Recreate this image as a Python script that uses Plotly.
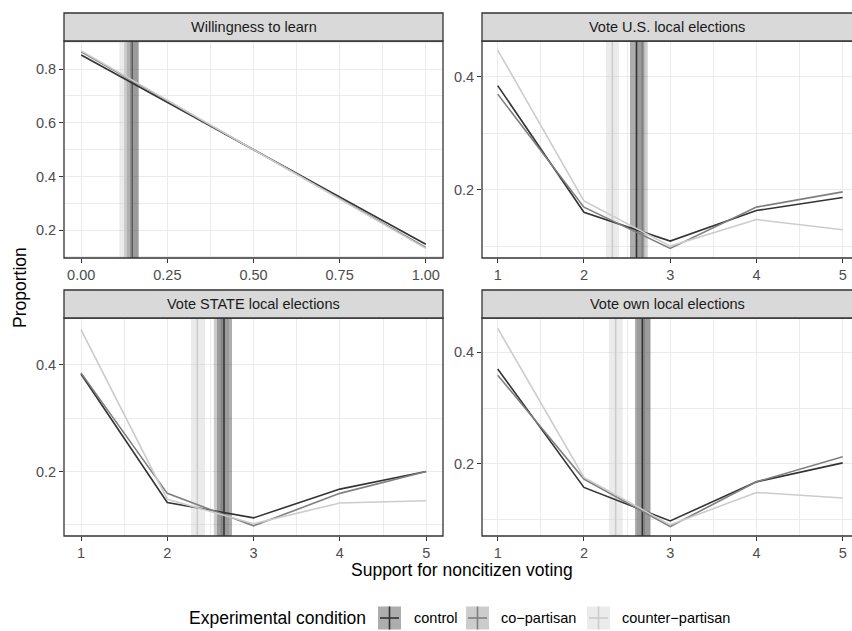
import plotly.graph_objects as go

# ---------------- data ----------------
conditions = ["control", "co\u2212partisan", "counter\u2212partisan"]
panel_titles = ["Willingness to learn", "Vote U.S. local elections",
                "Vote STATE local elections", "Vote own local elections"]

learn_x = [0, 1]
support_x = [1, 2, 3, 4, 5]

learn_control = [0.853, 0.147]
learn_co = [0.865, 0.135]
learn_counter = [0.868, 0.132]

us_control = [0.384, 0.160, 0.109, 0.163, 0.186]
us_co = [0.369, 0.169, 0.096, 0.169, 0.196]
us_counter = [0.447, 0.180, 0.100, 0.147, 0.129]

state_control = [0.383, 0.142, 0.113, 0.167, 0.200]
state_co = [0.385, 0.159, 0.098, 0.159, 0.200]
state_counter = [0.466, 0.148, 0.102, 0.141, 0.145]

own_control = [0.370, 0.158, 0.098, 0.168, 0.202]
own_co = [0.359, 0.173, 0.088, 0.168, 0.213]
own_counter = [0.443, 0.176, 0.091, 0.149, 0.139]

# means and 95% CI (mean, low, high) per condition
learn_mean = [(0.147, 0.131, 0.167), (0.145, 0.125, 0.165), (0.130, 0.111, 0.150)]
us_mean = [(2.609, 2.534, 2.700), (2.677, 2.615, 2.739), (2.329, 2.256, 2.406)]
state_mean = [(2.657, 2.576, 2.750), (2.630, 2.540, 2.715), (2.348, 2.275, 2.437)]
own_mean = [(2.677, 2.592, 2.766), (2.696, 2.615, 2.777), (2.368, 2.290, 2.449)]

# ---------------- styling ----------------
W, H = 852, 631
FONT = "Liberation Sans, Arial, Helvetica, sans-serif"
line_colors = ["#333333", "#7f7f7f", "#cccccc"]
fill_colors = ["rgba(51,51,51,0.4)", "rgba(127,127,127,0.4)", "rgba(204,204,204,0.4)"]
LW = 1.6


def fx(p):
    return p / W


def fy(p):
    return 1 - p / H


cols = [(64, 443), (482, 852)]
rows = [(41, 258), (318, 536)]
strip_rows = [(13, 41), (290, 318)]

panels = [
    dict(x=learn_x, ys=[learn_control, learn_co, learn_counter], means=learn_mean,
         col=0, row=0, xr=[-0.05, 1.05], yr=[0.096, 0.905],
         xt=[0, 0.25, 0.5, 0.75, 1.0], xtt=["0.00", "0.25", "0.50", "0.75", "1.00"],
         xm=[0.125, 0.375, 0.625, 0.875],
         yt=[0.2, 0.4, 0.6, 0.8], ym=[0.1, 0.3, 0.5, 0.7, 0.9]),
    dict(x=support_x, ys=[us_control, us_co, us_counter], means=us_mean,
         col=1, row=0, xr=[0.818, 5.108], yr=[0.079, 0.463],
         xt=[1, 2, 3, 4, 5], xtt=["1", "2", "3", "4", "5"], xm=[1.5, 2.5, 3.5, 4.5],
         yt=[0.2, 0.4], ym=[0.1, 0.3]),
    dict(x=support_x, ys=[state_control, state_co, state_counter], means=state_mean,
         col=0, row=1, xr=[0.803, 5.195], yr=[0.079, 0.488],
         xt=[1, 2, 3, 4, 5], xtt=["1", "2", "3", "4", "5"], xm=[1.5, 2.5, 3.5, 4.5],
         yt=[0.2, 0.4], ym=[0.1, 0.3]),
    dict(x=support_x, ys=[own_control, own_co, own_counter], means=own_mean,
         col=1, row=1, xr=[0.818, 5.108], yr=[0.071, 0.4615],
         xt=[1, 2, 3, 4, 5], xtt=["1", "2", "3", "4", "5"], xm=[1.5, 2.5, 3.5, 4.5],
         yt=[0.2, 0.4], ym=[0.1, 0.3]),
]

fig = go.Figure()
layout = dict(
    width=W, height=H, margin=dict(l=0, r=0, t=0, b=0),
    paper_bgcolor="white", plot_bgcolor="white",
    font=dict(family=FONT, color="#4d4d4d", size=14.5),
    showlegend=False, hovermode=False,
)
shapes = []
annotations = []

for i, p in enumerate(panels):
    n = "" if i == 0 else str(i + 1)
    xa, ya = "x" + n, "y" + n
    c0, c1 = cols[p["col"]]
    r0, r1 = rows[p["row"]]
    s0, s1 = strip_rows[p["row"]]
    right = p["col"] == 1
    yb, yt = p["yr"]

    common = dict(showline=False, zeroline=False, ticks="outside", ticklen=4,
                  tickwidth=1.2, tickcolor="#333333", showgrid=True,
                  gridcolor="#ebebeb", gridwidth=1.3,
                  tickfont=dict(size=14.5, color="#4d4d4d", family=FONT))
    layout["xaxis" + n] = dict(
        common, domain=[fx(c0), fx(c1)], range=p["xr"], anchor=ya,
        tickmode="array", tickvals=p["xt"], ticktext=p["xtt"],
        minor=dict(tickmode="array", tickvals=p["xm"], showgrid=True,
                   gridcolor="#ebebeb", gridwidth=0.7, ticks=""))
    layout["yaxis" + n] = dict(
        common, domain=[fy(r1), fy(r0)], range=p["yr"], anchor=xa,
        tickmode="array", tickvals=p["yt"], ticktext=[f"{v:.1f}" for v in p["yt"]],
        minor=dict(tickmode="array", tickvals=p["ym"], showgrid=True,
                   gridcolor="#ebebeb", gridwidth=0.7, ticks=""))

    # CI bands (semi-transparent, above grid) and mean lines
    for k, (m, lo, hi) in enumerate(p["means"]):
        fig.add_trace(go.Scatter(x=[lo, hi, hi, lo, lo], y=[yb, yb, yt, yt, yb],
                                 mode="lines", fill="toself", fillcolor=fill_colors[k],
                                 line=dict(width=0), xaxis=xa, yaxis=ya,
                                 name=conditions[k] + " CI"))
    for k, (m, lo, hi) in enumerate(p["means"]):
        fig.add_trace(go.Scatter(x=[m, m], y=[yb, yt], mode="lines", xaxis=xa, yaxis=ya,
                                 name=conditions[k] + " mean",
                                 line=dict(color=line_colors[k], width=LW)))

    # proportion lines
    for k, yv in enumerate(p["ys"]):
        fig.add_trace(go.Scatter(x=p["x"], y=yv, mode="lines", xaxis=xa, yaxis=ya,
                                 name=conditions[k],
                                 line=dict(color=line_colors[k], width=LW)))

    # panel border and strip
    x1p = 1.02 if right else fx(c1)
    shapes.append(dict(type="rect", xref="paper", yref="paper", x0=fx(c0), x1=x1p,
                       y0=fy(r1), y1=fy(r0), line=dict(color="#333333", width=1.3),
                       fillcolor="rgba(0,0,0,0)", layer="above"))
    shapes.append(dict(type="rect", xref="paper", yref="paper", x0=fx(c0), x1=x1p,
                       y0=fy(s1), y1=fy(s0), line=dict(color="#333333", width=1.3),
                       fillcolor="#d9d9d9", layer="above"))
    annotations.append(dict(text=panel_titles[i], xref="paper", yref="paper",
                            x=fx((c0 + c1) / 2), y=fy((s0 + s1) / 2),
                            xanchor="center", yanchor="middle", showarrow=False,
                            font=dict(size=14.5, color="#1a1a1a", family=FONT)))

# axis titles
annotations.append(dict(text="Support for noncitizen voting", xref="paper", yref="paper",
                        x=fx(462), y=fy(570), xanchor="center", yanchor="middle",
                        showarrow=False, font=dict(size=17.5, color="black", family=FONT)))
annotations.append(dict(text="Proportion", xref="paper", yref="paper",
                        x=fx(20), y=fy(288), xanchor="center", yanchor="middle",
                        textangle=-90, showarrow=False,
                        font=dict(size=17.5, color="black", family=FONT)))

# legend (manual, ggplot-style cross keys)
LEG_Y = 618
annotations.append(dict(text="Experimental condition", xref="paper", yref="paper",
                        x=fx(368), y=fy(LEG_Y), xanchor="right", yanchor="middle",
                        showarrow=False, font=dict(size=17.5, color="black", family=FONT)))
key_x = [378, 466, 587]
label_x = [412, 499, 620]
for k in range(3):
    kx0, kx1 = key_x[k], key_x[k] + 23
    ky0, ky1 = LEG_Y - 11.5, LEG_Y + 11.5
    shapes.append(dict(type="rect", xref="paper", yref="paper", x0=fx(kx0), x1=fx(kx1),
                       y0=fy(ky1), y1=fy(ky0), fillcolor=fill_colors[k],
                       line=dict(width=0)))
    cx = (kx0 + kx1) / 2
    shapes.append(dict(type="line", xref="paper", yref="paper", x0=fx(cx), x1=fx(cx),
                       y0=fy(ky1), y1=fy(ky0), line=dict(color=line_colors[k], width=LW)))
    shapes.append(dict(type="line", xref="paper", yref="paper", x0=fx(kx0 + 2), x1=fx(kx1 - 2),
                       y0=fy(LEG_Y), y1=fy(LEG_Y), line=dict(color=line_colors[k], width=LW)))
    annotations.append(dict(text=conditions[k], xref="paper", yref="paper",
                            x=fx(label_x[k]), y=fy(LEG_Y), xanchor="left", yanchor="middle",
                            showarrow=False, font=dict(size=14.5, color="black", family=FONT)))

layout["shapes"] = shapes
layout["annotations"] = annotations
fig.update_layout(**layout)
fig.write_html("out.html", config={"displayModeBar": False},
               post_script="document.body.style.margin='0';document.body.style.overflow='hidden';")
